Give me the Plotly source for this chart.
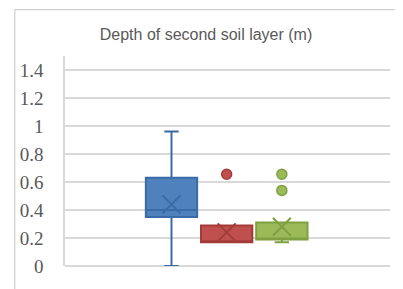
import plotly.graph_objects as go

series = ["Series 1", "Series 2", "Series 3"]
positions = [1, 2, 3]
q1 = [0.35, 0.17, 0.19]
median = [0.40, 0.17, 0.19]
q3 = [0.63, 0.29, 0.31]
lowerfence = [0.0, 0.17, 0.17]
upperfence = [0.96, 0.29, 0.31]
means = [0.44, 0.24, 0.28]
outliers = [[], [0.655], [0.655, 0.54]]

fills = ["#4F81BD", "#C0504D", "#9BBB59"]
edges = ["#3A6BA6", "#A23C39", "#7FA03E"]

W, H = 395, 281
L, R, T, B = 52, 13, 48, 20
pw, ph = W - L - R, H - T - B

fig = go.Figure()
for i, name in enumerate(series):
    fig.add_trace(go.Box(
        x=[positions[i]], q1=[q1[i]], median=[median[i]], q3=[q3[i]],
        lowerfence=[lowerfence[i]], upperfence=[upperfence[i]],
        name=name, width=0.93, whiskerwidth=0.28,
        fillcolor=fills[i], line=dict(color=edges[i], width=2),
        boxpoints=False, showlegend=False, hoverinfo="skip"))
    fig.add_trace(go.Scatter(
        x=[positions[i]], y=[means[i]], mode="markers", showlegend=False,
        marker=dict(symbol="x-thin-open", size=18, color=edges[i],
                    line=dict(color=edges[i], width=2))))
    if outliers[i]:
        fig.add_trace(go.Scatter(
            x=[positions[i]] * len(outliers[i]), y=outliers[i], mode="markers",
            showlegend=False,
            marker=dict(symbol="circle", size=10, color=fills[i],
                        line=dict(color=edges[i], width=1.5))))

fig.update_layout(
    width=W, height=H,
    margin=dict(l=L, r=R, t=T, b=B),
    paper_bgcolor="white", plot_bgcolor="white",
    title=dict(text="Depth of second soil layer (m)", x=198 / W, xanchor="center",
               y=1 - 26 / H, yanchor="middle",
               font=dict(family="Liberation Sans", size=16, color="#595959")),
    xaxis=dict(range=[-0.93, 4.96], showticklabels=False, showgrid=False,
               zeroline=False, showline=False, fixedrange=True),
    yaxis=dict(range=[0, 1.5], tickvals=[0, 0.2, 0.4, 0.6, 0.8, 1.0, 1.2, 1.4],
               ticktext=["0", "0.2", "0.4", "0.6", "0.8", "1", "1.2", "1.4"],
               showgrid=True, gridcolor="#D9D9D9", gridwidth=1.5,
               zeroline=True, zerolinecolor="#D9D9D9", zerolinewidth=1.5,
               showline=True, linecolor="#D9D9D9", linewidth=1.5,
               ticks="", ticklabelstandoff=16,
               tickfont=dict(family="'Times New Roman', 'Liberation Serif', serif", size=19,
                             color="#595959")),
    shapes=[dict(type="rect", xref="paper", yref="paper",
                 x0=(1 - L) / pw, x1=(W + 20 - L) / pw,
                 y0=-(B + 20) / ph, y1=(H - 1 - B) / ph,
                 line=dict(color="#CFCFCF", width=1.2), fillcolor="rgba(0,0,0,0)",
                 layer="below")],
)

fig.write_html("out.html")
